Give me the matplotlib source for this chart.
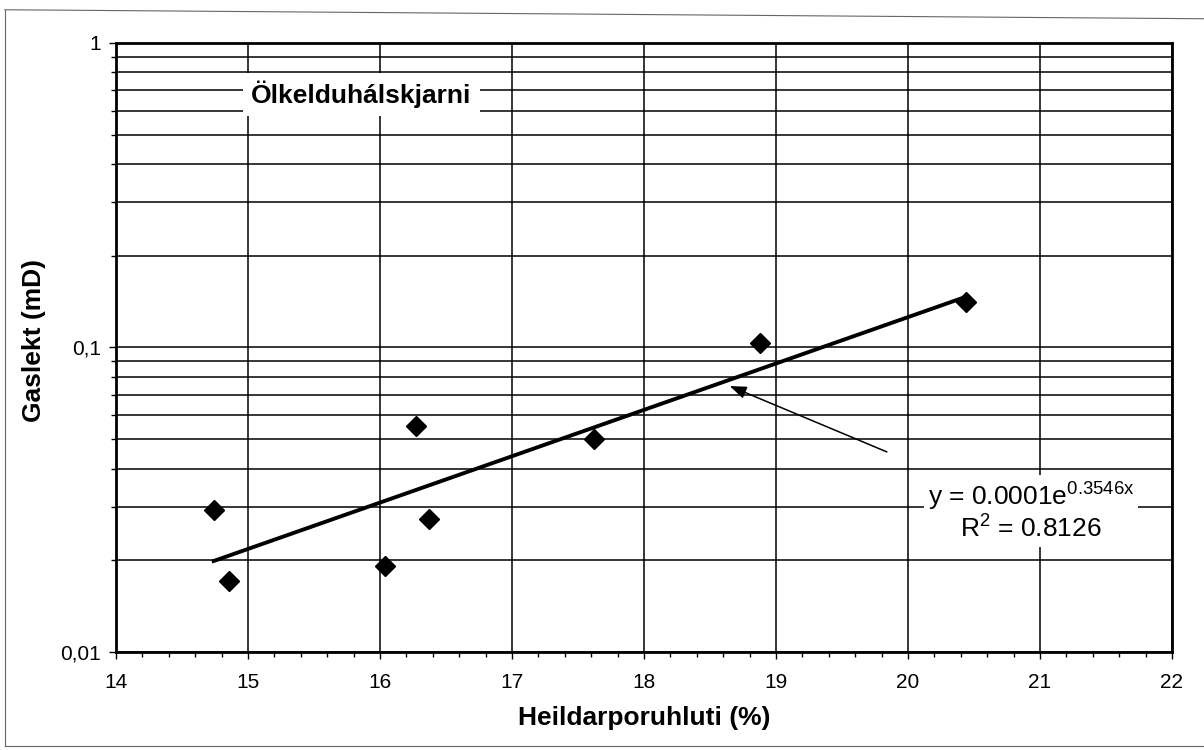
import numpy as np
import matplotlib
matplotlib.use("Agg")
import matplotlib.pyplot as plt
from matplotlib.ticker import MultipleLocator, LogLocator, FuncFormatter, NullFormatter
from matplotlib.lines import Line2D

plt.rcParams['font.family'] = ['Liberation Sans', 'DejaVu Sans']
plt.rcParams['mathtext.fontset'] = 'custom'
plt.rcParams['mathtext.rm'] = 'Liberation Sans'
plt.rcParams['mathtext.it'] = 'Liberation Sans:italic'
plt.rcParams['xtick.labelsize'] = 15
plt.rcParams['ytick.labelsize'] = 15

# porosity (%) and gas permeability (mD)
porosity = [14.74, 14.86, 16.04, 16.27, 16.37, 17.62, 18.88, 20.44]
permeability = [0.0292, 0.0171, 0.0192, 0.0554, 0.0273, 0.0499, 0.1035, 0.141]

x_ticks = [14, 15, 16, 17, 18, 19, 20, 21, 22]
y_limits = (0.01, 1)

title_text = "Ölkelduhálskjarni"
equation_text = "y = 0.0001e$^{\\rm 0.3546x}$\nR$^{\\rm 2}$ = 0.8126"
x_label = "Heildarporuhluti (%)"
y_label = "Gaslekt (mD)"

# arrow (head, tail) in data units
arrow_head = (18.65, 0.0747)
arrow_tail = (19.84, 0.0454)

fig = plt.figure(figsize=(12.04, 7.5), dpi=100)
ax = fig.add_axes([0.0963, 0.1307, 0.8771, 0.812])

# exponential trend line fitted on log scale
coef = np.polyfit(porosity, np.log(permeability), 1)
xs = np.linspace(min(porosity), max(porosity), 50)
ax.plot(xs, np.exp(np.polyval(coef, xs)), color='black', lw=2.8, zorder=3)

ax.plot(porosity, permeability, linestyle='none', marker='D', markersize=10,
        color='black', zorder=4)

ax.set_yscale('log')
ax.set_xlim(x_ticks[0], x_ticks[-1])
ax.set_ylim(*y_limits)
ax.xaxis.set_major_locator(MultipleLocator(1))
ax.xaxis.set_minor_locator(MultipleLocator(0.2))
ax.yaxis.set_major_locator(LogLocator(base=10))
ax.yaxis.set_minor_locator(LogLocator(base=10, subs=np.arange(2, 10)))
ax.yaxis.set_major_formatter(FuncFormatter(lambda v, p: f"{v:g}".replace('.', ',')))
ax.yaxis.set_minor_formatter(NullFormatter())

ax.grid(which='major', axis='x', color='black', lw=1.1)
ax.grid(which='both', axis='y', color='black', lw=1.1)
ax.set_axisbelow(True)

ax.tick_params(which='major', direction='out', length=5, width=1)
ax.tick_params(which='minor', direction='out', length=3.5, width=1)
ax.tick_params(axis='x', which='major', pad=10)
ax.tick_params(axis='y', which='major', pad=6)
for s in ax.spines.values():
    s.set_linewidth(2)

ax.set_xlabel(x_label, fontsize=19, fontweight='bold')
ax.set_ylabel(y_label, fontsize=19, fontweight='bold')
ax.xaxis.set_label_coords(0.5, -0.088)
ax.yaxis.set_label_coords(-0.066, 0.511)

ax.text(15.86, 0.678, title_text, fontsize=19, fontweight='bold', ha='center', va='center',
        bbox=dict(boxstyle='square,pad=0.3', facecolor='white', edgecolor='none'), zorder=5)

ax.text(20.93, 0.0288, equation_text, fontsize=19, ha='center', va='center',
        multialignment='center', linespacing=1.1,
        bbox=dict(boxstyle='square,pad=0.15', facecolor='white', edgecolor='none'), zorder=5)

ax.annotate('', xy=arrow_head, xytext=arrow_tail,
            arrowprops=dict(arrowstyle='-|>,head_length=0.4,head_width=0.15',
                            mutation_scale=25, color='black', lw=1.1,
                            shrinkA=0, shrinkB=0), zorder=5)

# outer chart border from the scanned page
for xd, yd in [([0.004, 1.0], [0.987, 0.975]), ([0.004, 0.004], [0.005, 0.987]),
               ([0.004, 1.0], [0.005, 0.005])]:
    fig.add_artist(Line2D(xd, yd, transform=fig.transFigure, color='#666666', lw=0.8))

fig.savefig('out.png', dpi=100)
